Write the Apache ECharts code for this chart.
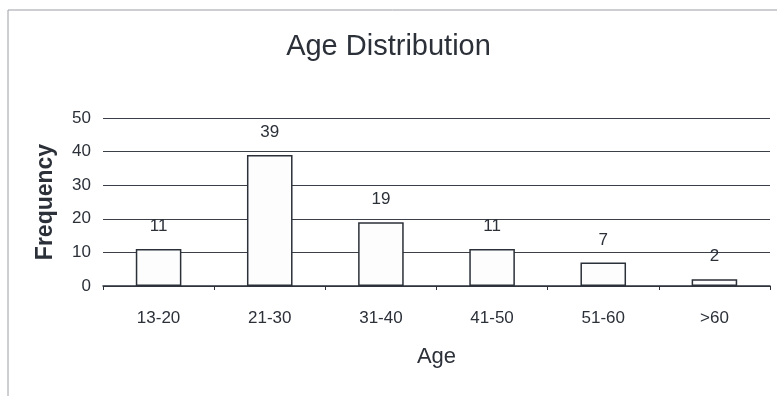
<!DOCTYPE html>
<html>
<head>
<meta charset="utf-8">
<script src="https://cdn.jsdelivr.net/npm/echarts@6/dist/echarts.min.js"></script>
<style>
  html, body { margin: 0; padding: 0; background: #fff; }
  #chart { width: 777px; height: 396px; }
</style>
</head>
<body>
<div id="chart"></div>
<script>
// Age groups and their counts
const categories = ['13-20', '21-30', '31-40', '41-50', '51-60', '>60'];
const frequency = [11, 39, 19, 11, 7, 2];
const yTicks = { min: 0, max: 50, interval: 10 };

const ink = '#2b3039';
const font = '"Liberation Sans", Arial, sans-serif';

const chart = echarts.init(document.getElementById('chart'));

const option = {
    animation: false,
    backgroundColor: '#fff',
    textStyle: { fontFamily: font, color: ink },
    title: {
        text: 'Age Distribution',
        left: 'center',
        top: 27,
        textStyle: { fontSize: 29, fontWeight: 'normal', color: ink, fontFamily: font }
    },
    graphic: [{
        type: 'polyline',
        shape: { points: [[8, 396], [8, 10], [777, 10]] },
        style: { fill: null, stroke: '#9a9ea6', lineWidth: 1 }
    }],
    grid: { left: 103, right: 7, top: 118, bottom: 110 },
    xAxis: {
        type: 'category',
        data: categories,
        name: 'Age',
        nameLocation: 'middle',
        nameGap: 60,
        nameTextStyle: { fontSize: 22, color: ink, fontFamily: font },
        axisLine: { lineStyle: { color: ink, width: 1.5 } },
        axisTick: { show: true, alignWithLabel: false, length: 4, lineStyle: { color: ink } },
        axisLabel: { fontSize: 17, color: ink, margin: 24, fontFamily: font }
    },
    yAxis: {
        type: 'value',
        min: yTicks.min,
        max: yTicks.max,
        interval: yTicks.interval,
        name: 'Frequency',
        nameLocation: 'middle',
        nameGap: 46,
        nameTextStyle: { fontSize: 23, fontWeight: 'bold', color: ink, fontFamily: font },
        axisLine: { show: false },
        axisTick: { show: false },
        axisLabel: { fontSize: 17, color: ink, margin: 12, fontFamily: font },
        splitLine: { lineStyle: { color: '#3a3f48', width: 1.2 } }
    },
    series: [{
        type: 'bar',
        data: frequency,
        barWidth: '41%',
        itemStyle: { color: '#fdfdfd', borderColor: ink, borderWidth: 1.5 },
        label: {
            show: true,
            position: 'top',
            distance: 14,
            fontSize: 17,
            color: ink,
            fontFamily: font
        }
    }]
};

chart.setOption(option);
</script>
</body>
</html>
